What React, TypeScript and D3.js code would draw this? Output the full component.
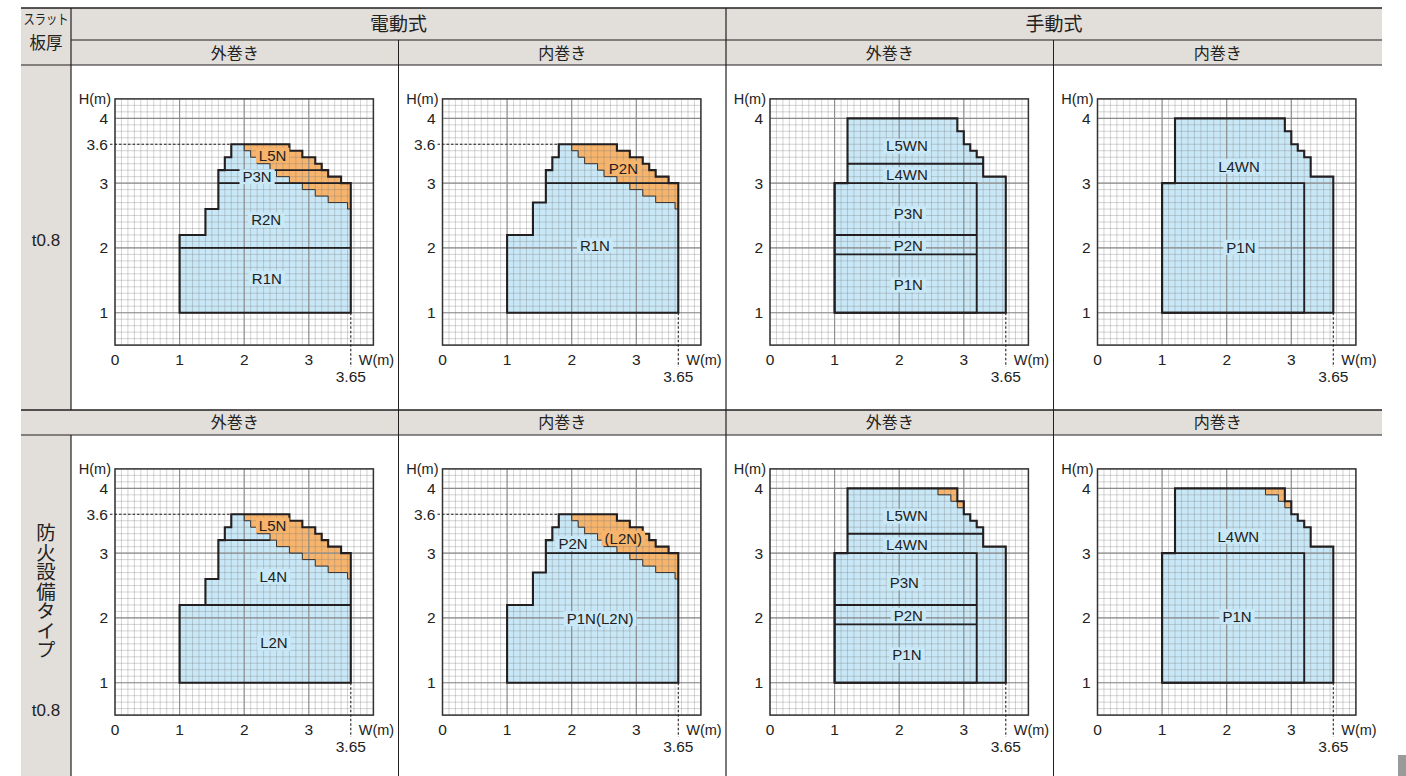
import React from "react";
import * as d3 from "d3";

type Pt = [number, number];

// ---------- text ----------
const GROUPS = ["電動式", "手動式"];
const WINDINGS = ["外巻き", "内巻き", "外巻き", "内巻き"];
const CORNER_LABEL = ["スラット", "板厚"];
const ROW1_LABEL = "t0.8";
const ROW2_LABEL = ["防火設備タイプ", "t0.8"];
const X_TICKS = [0, 1, 2, 3];
const Y_TICKS = [1, 2, 3, 4];
const REF_H = 3.6;
const REF_W = 3.65;
const X_DOMAIN: Pt = [0, 4];
const Y_DOMAIN: Pt = [0.5, 4.3];

// ---------- shapes (W, H in metres) ----------
const ELEC_LEFT_OUT: Pt[] = [[1, 1], [1, 2.2], [1.4, 2.2], [1.4, 2.6], [1.6, 2.6], [1.6, 3.2], [1.7, 3.2], [1.7, 3.4], [1.8, 3.4], [1.8, 3.6]];
const ELEC_LEFT_IN: Pt[] = [[1, 1], [1, 2.2], [1.4, 2.2], [1.4, 2.7], [1.6, 2.7], [1.6, 3.2], [1.7, 3.2], [1.7, 3.4], [1.8, 3.4], [1.8, 3.6]];
const ELEC_TOP: Pt[] = [[2.0, 3.6], [2.7, 3.6], [2.7, 3.5], [2.9, 3.5], [2.9, 3.4], [3.1, 3.4], [3.1, 3.3], [3.2, 3.3], [3.2, 3.2], [3.3, 3.2], [3.3, 3.1], [3.5, 3.1], [3.5, 3.0], [3.65, 3.0], [3.65, 2.6]];
const ELEC_ORANGE_INNER: Pt[] = [[2.0, 3.6], [2.0, 3.5], [2.1, 3.5], [2.1, 3.4], [2.2, 3.4], [2.2, 3.3], [2.4, 3.3], [2.4, 3.2], [2.5, 3.2], [2.5, 3.1], [2.7, 3.1], [2.7, 3.0], [2.9, 3.0], [2.9, 2.9], [3.1, 2.9], [3.1, 2.8], [3.3, 2.8], [3.3, 2.7], [3.6, 2.7], [3.6, 2.6], [3.65, 2.6]];
const ELEC_BOTTOM_RIGHT: Pt[] = [[3.65, 1]];

const MANUAL_OUT: Pt[] = [[1, 1], [1, 3], [1.2, 3], [1.2, 4], [2.9, 4], [2.9, 3.8], [3.0, 3.8], [3.0, 3.6], [3.1, 3.6], [3.1, 3.5], [3.2, 3.5], [3.2, 3.4], [3.3, 3.4], [3.3, 3.1], [3.65, 3.1], [3.65, 1]];
const MANUAL_P_RECT: Pt[] = [[1, 1], [1, 3], [3.2, 3], [3.2, 1], [1, 1]];
const MANUAL_ORANGE_OUTER: Pt[] = [[2.6, 4.0], [2.9, 4.0], [2.9, 3.8], [3.0, 3.8], [3.0, 3.7]];
const MANUAL_ORANGE_INNER: Pt[] = [[2.6, 4.0], [2.6, 3.9], [2.8, 3.9], [2.8, 3.8], [2.9, 3.8], [2.9, 3.7], [3.0, 3.7]];

const P1_LINES: Pt[][] = [[[1, 2], [3.65, 2]], [[1.6, 3], [3.65, 3]], [[1.6, 3.2], [3.3, 3.2]]];
const P2_LINES: Pt[][] = [[[1.6, 3], [3.65, 3]]];
const P3_LINES: Pt[][] = [MANUAL_P_RECT, [[1, 2.2], [3.2, 2.2]], [[1, 1.9], [3.2, 1.9]], [[1.2, 3.3], [3.3, 3.3]]];
const P4_LINES: Pt[][] = [MANUAL_P_RECT];
const P5_LINES: Pt[][] = [[[1, 2.2], [3.65, 2.2]], [[1.6, 3.2], [2.4, 3.2]]];
const P6_LINES: Pt[][] = [[[1.6, 3], [3.65, 3]]];

// labels: [text, W, H, fill]  ("b" blue, "o" orange)
type Lab = [string, number, number, "b" | "o"];
const P1_LABELS: Lab[] = [["L5N", 2.44, 3.43, "o"], ["P3N", 2.2, 3.1, "b"], ["R2N", 2.34, 2.43, "b"], ["R1N", 2.35, 1.53, "b"]];
const P2_LABELS: Lab[] = [["P2N", 2.8, 3.23, "o"], ["R1N", 2.36, 2.04, "b"]];
const P3_LABELS: Lab[] = [["L5WN", 2.12, 3.57, "b"], ["L4WN", 2.12, 3.13, "b"], ["P3N", 2.14, 2.53, "b"], ["P2N", 2.14, 2.04, "b"], ["P1N", 2.14, 1.43, "b"]];
const P4_LABELS: Lab[] = [["L4WN", 2.19, 3.26, "b"], ["P1N", 2.22, 2.01, "b"]];
const P5_LABELS: Lab[] = [["L5N", 2.44, 3.43, "o"], ["L4N", 2.45, 2.64, "b"], ["L2N", 2.46, 1.61, "b"]];
const P6_LABELS: Lab[] = [["P2N", 2.02, 3.15, "b"], ["(L2N)", 2.8, 3.23, "o"], ["P1N(L2N)", 2.44, 1.99, "b"]];
const P7_LABELS: Lab[] = [["L5WN", 2.12, 3.57, "b"], ["L4WN", 2.12, 3.13, "b"], ["P3N", 2.08, 2.54, "b"], ["P2N", 2.14, 2.04, "b"], ["P1N", 2.12, 1.43, "b"]];
const P8_LABELS: Lab[] = [["L4WN", 2.18, 3.26, "b"], ["P1N", 2.16, 2.02, "b"]];

interface PanelSpec {
  col: number;
  row: number;
  outer: Pt[];
  orange: Pt[] | null;
  inner: Pt[] | null;
  lines: Pt[][];
  labels: Lab[];
  ref36: boolean;
}

const elecOrange = [...ELEC_TOP, ...ELEC_ORANGE_INNER.slice().reverse()] as Pt[];
const manOrange = [...MANUAL_ORANGE_OUTER, ...MANUAL_ORANGE_INNER.slice().reverse()] as Pt[];

const PANELS: PanelSpec[] = [
  { col: 0, row: 0, outer: [...ELEC_LEFT_OUT, ...ELEC_TOP, ...ELEC_BOTTOM_RIGHT], orange: elecOrange, inner: ELEC_ORANGE_INNER, lines: P1_LINES, labels: P1_LABELS, ref36: true },
  { col: 1, row: 0, outer: [...ELEC_LEFT_IN, ...ELEC_TOP, ...ELEC_BOTTOM_RIGHT], orange: elecOrange, inner: ELEC_ORANGE_INNER, lines: P2_LINES, labels: P2_LABELS, ref36: true },
  { col: 2, row: 0, outer: MANUAL_OUT, orange: null, inner: null, lines: P3_LINES, labels: P3_LABELS, ref36: false },
  { col: 3, row: 0, outer: MANUAL_OUT, orange: null, inner: null, lines: P4_LINES, labels: P4_LABELS, ref36: false },
  { col: 0, row: 1, outer: [...ELEC_LEFT_OUT, ...ELEC_TOP, ...ELEC_BOTTOM_RIGHT], orange: elecOrange, inner: ELEC_ORANGE_INNER, lines: P5_LINES, labels: P5_LABELS, ref36: true },
  { col: 1, row: 1, outer: [...ELEC_LEFT_IN, ...ELEC_TOP, ...ELEC_BOTTOM_RIGHT], orange: elecOrange, inner: ELEC_ORANGE_INNER, lines: P6_LINES, labels: P6_LABELS, ref36: true },
  { col: 2, row: 1, outer: MANUAL_OUT, orange: manOrange, inner: MANUAL_ORANGE_INNER, lines: P3_LINES, labels: P7_LABELS, ref36: false },
  { col: 3, row: 1, outer: MANUAL_OUT, orange: manOrange, inner: MANUAL_ORANGE_INNER, lines: P4_LINES, labels: P8_LABELS, ref36: false },
];

// ---------- layout / style ----------
const W = 1406;
const H = 776;
const COL_X = [71, 398.5, 726, 1053.5];
const RIGHT = 1382;
const LEFT = 21;
const ROW_OFF = 370;
const FONT_NUM = "'Liberation Sans', Arial, sans-serif";
const FONT_JP = "'Noto Sans CJK JP', sans-serif";
const BLUE = "#c9e8f7";
const ORANGE = "#f6b46c";
const GRAY = "#e2ded9";
const INK = "#231f20";
const LAB_SIZE = 15;

let ctx: CanvasRenderingContext2D | null = null;
function textWidth(t: string, size: number, family: string) {
  if (!ctx && typeof document !== "undefined") ctx = document.createElement("canvas").getContext("2d");
  if (!ctx) return t.length * size * 0.6;
  ctx.font = `${size}px ${family}`;
  return ctx.measureText(t).width;
}

function Panel({ spec }: { spec: PanelSpec }) {
  const x0 = COL_X[spec.col] + 44;
  const yOff = spec.row * ROW_OFF;
  const xs = d3.scaleLinear().domain(X_DOMAIN).range([x0, x0 + 258.4]);
  const ys = d3.scaleLinear().domain(Y_DOMAIN).range([yOff + 345.1, yOff + 98.9]);
  const line = d3.line<Pt>().x((d) => xs(d[0])).y((d) => ys(d[1]));
  const minorX = d3.range(Math.round(X_DOMAIN[0] * 10), Math.round(X_DOMAIN[1] * 10) + 1).map((i) => i / 10);
  const minorY = d3.range(Math.round(Y_DOMAIN[0] * 10), Math.round(Y_DOMAIN[1] * 10) + 1).map((i) => i / 10);
  const gx0 = xs(X_DOMAIN[0]);
  const gx1 = xs(X_DOMAIN[1]);
  const gy0 = ys(Y_DOMAIN[0]);
  const gy1 = ys(Y_DOMAIN[1]);
  const yTickLabels = spec.ref36 ? [...Y_TICKS, REF_H] : Y_TICKS;
  return (
    <g>
      <rect x={gx0} y={gy1} width={gx1 - gx0} height={gy0 - gy1} fill="#fff" />
      <path d={line(spec.outer) + "Z"} fill={BLUE} />
      {spec.orange && <path d={line(spec.orange) + "Z"} fill={ORANGE} />}
      {minorX.map((v) => (
        <line key={"mx" + v} x1={xs(v)} x2={xs(v)} y1={gy0} y2={gy1} stroke="rgba(120,120,120,0.4)" strokeWidth={0.8} />
      ))}
      {minorY.map((v) => (
        <line key={"my" + v} y1={ys(v)} y2={ys(v)} x1={gx0} x2={gx1} stroke="rgba(120,120,120,0.4)" strokeWidth={0.8} />
      ))}
      {X_TICKS.filter((v) => v > X_DOMAIN[0]).map((v) => (
        <line key={"Mx" + v} x1={xs(v)} x2={xs(v)} y1={gy0} y2={gy1} stroke="#8c8c8c" strokeWidth={1.1} />
      ))}
      {Y_TICKS.map((v) => (
        <line key={"My" + v} y1={ys(v)} y2={ys(v)} x1={gx0} x2={gx1} stroke="#8c8c8c" strokeWidth={1.1} />
      ))}
      <rect x={gx0} y={gy1} width={gx1 - gx0} height={gy0 - gy1} fill="none" stroke="#333" strokeWidth={1.5} />
      {spec.ref36 && (
        <line x1={gx0 - 5} x2={xs(1.8)} y1={ys(REF_H)} y2={ys(REF_H)} stroke={INK} strokeWidth={1} strokeDasharray="2.5,2" />
      )}
      <line x1={xs(REF_W)} x2={xs(REF_W)} y1={ys(1)} y2={gy0 + 22} stroke={INK} strokeWidth={1.1} strokeDasharray="2.5,2" />
      {spec.inner && <path d={line(spec.inner) || ""} fill="none" stroke="#333" strokeWidth={1} />}
      {spec.lines.map((l, i) => (
        <path key={"l" + i} d={line(l) || ""} fill="none" stroke={INK} strokeWidth={1.9} />
      ))}
      <path d={line(spec.outer) + "Z"} fill="none" stroke={INK} strokeWidth={2.1} strokeLinejoin="miter" />
      {spec.labels.map(([t, lx, ly, c], i) => {
        const tw = textWidth(t, LAB_SIZE, FONT_NUM);
        const cx = xs(lx);
        const cy = ys(ly);
        return (
          <g key={"lab" + i}>
            <rect x={cx - tw / 2 - 3} y={cy - 7.5} width={tw + 6} height={15} fill={c === "o" ? ORANGE : BLUE} />
            <text x={cx} y={cy + 5.3} textAnchor="middle" fontFamily={FONT_NUM} fontSize={LAB_SIZE} fill="#222">
              {t}
            </text>
          </g>
        );
      })}
      {X_TICKS.map((v) => (
        <text key={"tx" + v} x={xs(v)} y={gy0 + 19.5} textAnchor="middle" fontFamily={FONT_NUM} fontSize={15.5} fill="#222">
          {v}
        </text>
      ))}
      {yTickLabels.map((v) => (
        <text key={"ty" + v} x={gx0 - 7} y={ys(v) + 5.5} textAnchor="end" fontFamily={FONT_NUM} fontSize={15.5} fill="#222">
          {v}
        </text>
      ))}
      <text x={gx0 - 4} y={gy1 + 5} textAnchor="end" fontFamily={FONT_NUM} fontSize={14.5} fill="#222">
        H(m)
      </text>
      <text x={xs(REF_W) + 8} y={gy0 + 19.5} textAnchor="start" fontFamily={FONT_NUM} fontSize={14.5} fill="#222">
        W(m)
      </text>
      <text x={xs(REF_W)} y={gy0 + 37} textAnchor="middle" fontFamily={FONT_NUM} fontSize={15.5} fill="#222">
        {REF_W}
      </text>
    </g>
  );
}

export default function App() {
  const colCenters = COL_X.map((x, i) => (x + (i < 3 ? COL_X[i + 1] : RIGHT)) / 2);
  return (
    <svg width={W} height={H} style={{ position: "absolute", left: 0, top: 0, display: "block", background: "#fff" }}>
      {/* header backgrounds */}
      <rect x={LEFT} y={8} width={RIGHT - LEFT} height={57} fill={GRAY} />
      <rect x={LEFT} y={65} width={COL_X[0] - LEFT} height={H - 65} fill={GRAY} />
      <rect x={LEFT} y={410} width={RIGHT - LEFT} height={25} fill={GRAY} />
      {/* panels */}
      {PANELS.map((p, i) => (
        <Panel key={i} spec={p} />
      ))}
      {/* table lines */}
      <line x1={LEFT} x2={RIGHT} y1={8} y2={8} stroke={INK} strokeWidth={1.6} />
      <line x1={COL_X[0]} x2={RIGHT} y1={40} y2={40} stroke={INK} strokeWidth={1} />
      <line x1={LEFT} x2={RIGHT} y1={65} y2={65} stroke={INK} strokeWidth={1.2} />
      <line x1={LEFT} x2={RIGHT} y1={410} y2={410} stroke={INK} strokeWidth={1.4} />
      <line x1={LEFT} x2={RIGHT} y1={435} y2={435} stroke={INK} strokeWidth={1.2} />
      <line x1={COL_X[0]} x2={COL_X[0]} y1={8} y2={410} stroke={INK} strokeWidth={1.2} />
      <line x1={COL_X[0]} x2={COL_X[0]} y1={435} y2={H} stroke={INK} strokeWidth={1.2} />
      <line x1={COL_X[2]} x2={COL_X[2]} y1={8} y2={H} stroke={INK} strokeWidth={1.2} />
      <line x1={COL_X[1]} x2={COL_X[1]} y1={40} y2={H} stroke={INK} strokeWidth={1} />
      <line x1={COL_X[3]} x2={COL_X[3]} y1={40} y2={H} stroke={INK} strokeWidth={1} />
      {/* header text */}
      <text x={46} y={24} textAnchor="middle" fontFamily={FONT_JP} fontSize={14} textLength={45} lengthAdjust="spacingAndGlyphs" fill="#222">
        {CORNER_LABEL[0]}
      </text>
      <text x={46} y={49} textAnchor="middle" fontFamily={FONT_JP} fontSize={16.5} fill="#222">
        {CORNER_LABEL[1]}
      </text>
      <text x={(COL_X[0] + COL_X[2]) / 2} y={31} textAnchor="middle" fontFamily={FONT_JP} fontSize={19} fill="#222">
        {GROUPS[0]}
      </text>
      <text x={(COL_X[2] + RIGHT) / 2} y={31} textAnchor="middle" fontFamily={FONT_JP} fontSize={19} fill="#222">
        {GROUPS[1]}
      </text>
      {WINDINGS.map((t, i) => (
        <g key={"w" + i}>
          <text x={colCenters[i]} y={58.5} textAnchor="middle" fontFamily={FONT_JP} fontSize={16} fill="#222">
            {t}
          </text>
          <text x={colCenters[i]} y={428} textAnchor="middle" fontFamily={FONT_JP} fontSize={16} fill="#222">
            {t}
          </text>
        </g>
      ))}
      <text x={46} y={246} textAnchor="middle" fontFamily={FONT_NUM} fontSize={17} fill="#222">
        {ROW1_LABEL}
      </text>
      <text x={46} y={523} fontFamily={FONT_JP} fontSize={19.5} fill="#222" style={{ writingMode: "vertical-rl" as any }}>
        {ROW2_LABEL[0]}
      </text>
      <text x={46} y={716} textAnchor="middle" fontFamily={FONT_NUM} fontSize={17} fill="#222">
        {ROW2_LABEL[1]}
      </text>
      <rect x={1398} y={755} width={8} height={21} fill="#9a9a9a" />
    </svg>
  );
}
